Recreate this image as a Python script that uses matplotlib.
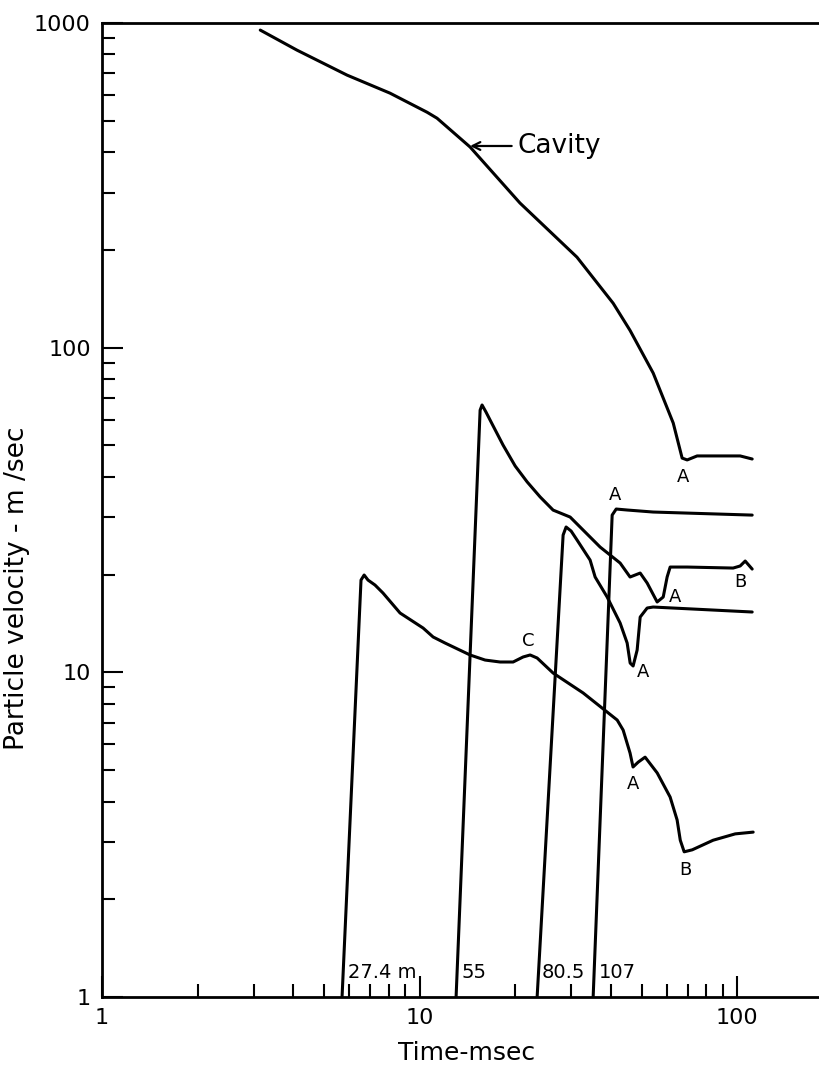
import matplotlib
matplotlib.use('Agg')
import matplotlib.pyplot as plt
from matplotlib.ticker import FixedLocator, FixedFormatter, NullFormatter

plt.rcParams['font.family'] = ['DejaVu Sans']

# ---- data (time in msec, particle velocity in m/sec) ----
cavity_t = [3.15, 4.11, 5.91, 8.07, 10.56, 11.35, 14.42, 20.7, 31.3, 40.7, 46.0,
            54.4, 62.9, 67.1, 69.6, 74.8, 88.4, 102.2, 111.5]
cavity_v = [951, 825, 691, 608, 531, 509, 415, 279, 190, 137, 113,
            83.5, 58.6, 45.7, 45.1, 46.4, 46.4, 46.4, 45.4]

r274_t = [5.70, 6.54, 6.69, 6.88, 7.24, 7.67, 8.68, 10.26, 11.03, 12.03, 14.42, 16.08,
          17.93, 19.7, 21.18, 22.29, 23.45, 26.33, 32.73, 41.9, 43.75, 46.0, 47.0,
          48.8, 51.3, 56.0, 61.5, 64.7, 66.2, 68.1, 72.2, 84.0, 98.6, 112.3]
r274_v = [1.0, 19.24, 19.94, 19.24, 18.57, 17.55, 15.23, 13.69, 12.85, 12.31, 11.31, 10.91,
          10.76, 10.76, 11.15, 11.31, 11.07, 9.95, 8.64, 7.13, 6.64, 5.64, 5.11,
          5.29, 5.48, 4.90, 4.13, 3.51, 3.04, 2.80, 2.84, 3.04, 3.18, 3.22]

r55_t = [13.03, 15.51, 15.73, 16.19, 16.68, 18.32, 20.0, 21.81, 23.96, 26.33,
         29.79, 32.73, 37.03, 42.8, 46.0, 49.5, 52.07, 55.98, 58.5, 60.18, 61.52,
         69.6, 97.1, 102.2, 106.0, 111.5]
r55_v = [1.0, 64.2, 66.6, 63.3, 59.8, 50.1, 43.2, 38.6, 34.7, 31.6,
         30.08, 27.43, 24.31, 21.71, 19.66, 20.22, 18.84, 16.47, 17.06, 19.66, 21.1,
         21.1, 20.95, 21.26, 22.02, 20.8]

r805_t = [23.45, 28.31, 28.93, 30.0, 31.33, 34.43, 35.71, 38.96, 42.8, 45.04, 46.03,
          47.03, 48.42, 49.5, 52.07, 54.37, 111.5]
r805_v = [1.0, 26.47, 28.03, 27.24, 25.55, 22.17, 19.66, 17.06, 14.19, 12.31, 10.68,
          10.46, 11.71, 14.8, 15.78, 15.89, 15.34]

r107_t = [35.2, 40.4, 41.6, 45.04, 54.37, 111.5]
r107_v = [1.0, 30.5, 31.84, 31.62, 31.17, 30.5]

range_labels = ['27.4 m', '55', '80.5', '107']
range_label_t = [5.95, 13.6, 24.3, 36.7]
range_label_v = 1.19

point_labels = ['A', 'A', 'A', 'B', 'A', 'C', 'A', 'B']
point_label_t = [67.6, 41.3, 63.8, 102.2, 50.6, 21.97, 47.0, 68.6]
point_label_v = [39.95, 35.2, 17.06, 18.97, 10.0, 12.49, 4.53, 2.46]

x_ticks = [1, 10, 100]
x_ticklabels = ['1', '10', '100']
y_ticks = [1, 10, 100, 1000]
y_ticklabels = ['1', '10', '100', '1000']

# ---- figure ----
W, H = 819, 1068
fig = plt.figure(figsize=(W / 100, H / 100), dpi=100)
ax = fig.add_axes([102 / W, 71 / H, 717 / W, 974 / H])
ax.set_xscale('log')
ax.set_yscale('log')
ax.set_xlim(1, 181)
ax.set_ylim(1, 1000)

lw = 2.2
for t, v in [(cavity_t, cavity_v), (r274_t, r274_v), (r55_t, r55_v),
             (r805_t, r805_v), (r107_t, r107_v)]:
    ax.plot(t, v, color='black', lw=lw, solid_joinstyle='round',
            solid_capstyle='round')

# annotations
ax.annotate('Cavity', xy=(14.42, 418), xytext=(20.3, 418),
            fontsize=19, ha='left', va='center',
            arrowprops=dict(arrowstyle='->', lw=1.6, color='black',
                            shrinkA=2, shrinkB=0, mutation_scale=14))

for lab, t in zip(range_labels, range_label_t):
    ax.text(t, range_label_v, lab, fontsize=14, ha='left', va='center',
            family=['Liberation Sans Narrow', 'DejaVu Sans'])

for lab, t, v in zip(point_labels, point_label_t, point_label_v):
    ax.text(t, v, lab, fontsize=13, ha='center', va='center')

# ticks
ax.xaxis.set_major_locator(FixedLocator(x_ticks))
ax.xaxis.set_major_formatter(FixedFormatter(x_ticklabels))
ax.yaxis.set_major_locator(FixedLocator(y_ticks))
ax.yaxis.set_major_formatter(FixedFormatter(y_ticklabels))
ax.xaxis.set_minor_locator(FixedLocator([m * d for d in (1, 10, 100) for m in range(2, 10)]))
ax.yaxis.set_minor_locator(FixedLocator([m * d for d in (1, 10, 100) for m in range(2, 10)]))
ax.xaxis.set_minor_formatter(NullFormatter())
ax.yaxis.set_minor_formatter(NullFormatter())

ax.tick_params(which='major', direction='in', length=15, width=1.5,
               labelsize=16, pad=8, top=False, right=False)
ax.tick_params(which='minor', direction='in', length=9.5, width=1.5,
               top=False, right=False)

for s in ['left', 'bottom', 'top']:
    ax.spines[s].set_linewidth(2.0)
ax.spines['right'].set_visible(False)

ax.set_xlabel('Time-msec', fontsize=18)
ax.set_ylabel('Particle velocity - m /sec', fontsize=19)
ax.xaxis.set_label_coords(0.508, -0.045)
ax.yaxis.set_label_coords(-0.10, 0.42)

fig.savefig('out.png', dpi=100, facecolor='white')
